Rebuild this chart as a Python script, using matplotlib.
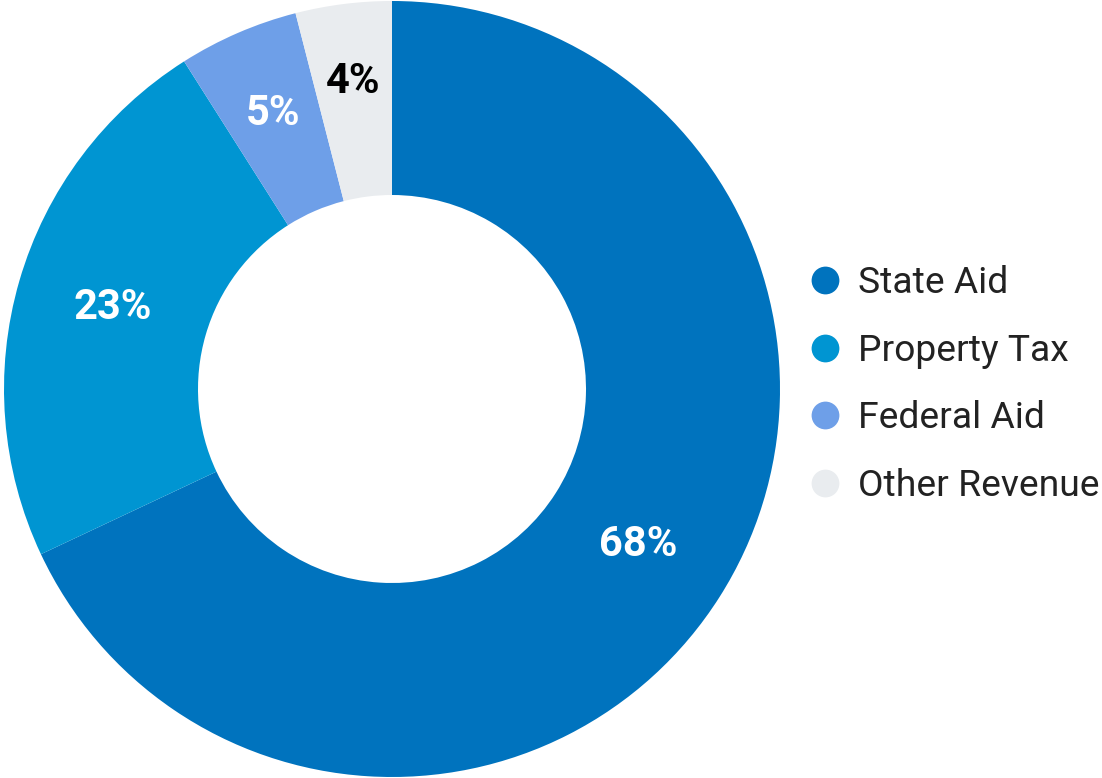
import matplotlib.pyplot as plt

# revenue shares (percent)
categories = ["State Aid", "Property Tax", "Federal Aid", "Other Revenue"]
shares = [68, 23, 5, 4]
colors = ["#0073BE", "#0095D2", "#6E9FE8", "#E9ECEF"]
label_colors = ["white", "white", "white", "black"]

plt.rcParams['font.family'] = ['Roboto', 'DejaVu Sans']

fig = plt.figure(figsize=(11.02, 7.78), dpi=100)
ax = fig.add_axes([4/1102, 1/778, 776/1102, 776/778])

wedges, texts, autotexts = ax.pie(
    shares, colors=colors, startangle=90, counterclock=False,
    radius=1, pctdistance=0.75,
    autopct=lambda p: '%.0f%%' % p,
    wedgeprops=dict(width=0.5, linewidth=0))
# small slices have their labels pushed a bit outwards
label_dist = [0.75, 0.75, 0.775, 0.80]
for t, c, d in zip(autotexts, label_colors, label_dist):
    x, y = t.get_position()
    t.set_position((x / 0.75 * d, y / 0.75 * d))
    t.set_color(c)
    t.set_fontsize(30)
    t.set_fontweight('bold')
ax.set_xlim(-1, 1)
ax.set_ylim(-1, 1)

# legend drawn in pixel coordinates
lax = fig.add_axes([0, 0, 1, 1])
lax.set_xlim(0, 1102)
lax.set_ylim(778, 0)
lax.axis('off')
lax.patch.set_alpha(0)
for i, (name, c) in enumerate(zip(categories, colors)):
    y = 280 + i * 67.5
    lax.scatter([825], [y], s=20**2, color=c, linewidths=0)
    lax.text(858, y + 13, name, fontsize=26.8, color="#222222", va='baseline')

fig.savefig("out.png", dpi=100)
